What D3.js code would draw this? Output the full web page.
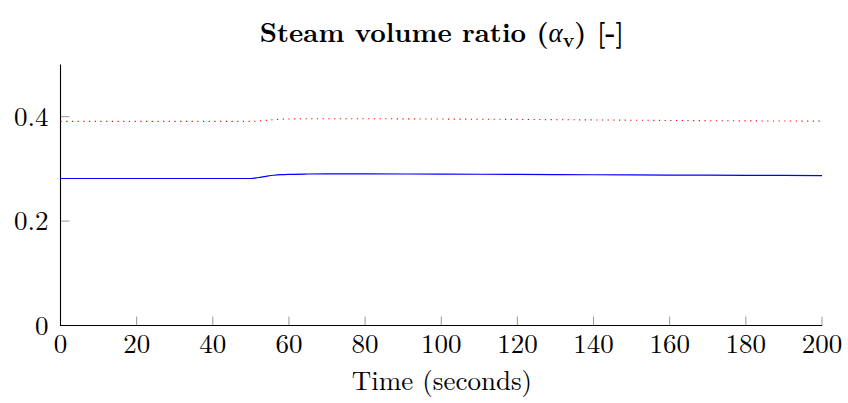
<!DOCTYPE html>
<html>
<head>
<meta charset="utf-8">
<script src="https://cdn.jsdelivr.net/npm/d3@7"></script>
<style>
  html, body { margin: 0; padding: 0; background: #fff; }
  svg { display: block; }
  text { font-family: "Latin Modern Roman", "CMU Serif", "Liberation Serif", serif; fill: #000; }
</style>
</head>
<body>
<svg id="chart" width="848" height="403"></svg>
<script>
// Simulation output: steam volume ratio over time
const time = [0, 50, 52, 54, 56, 58, 60, 65, 70, 80, 100, 120, 140, 160, 180, 200];
const alphaMain = [0.2816, 0.2816, 0.2835, 0.2858, 0.2878, 0.2890, 0.2896, 0.2902, 0.2904, 0.2904, 0.2900, 0.2895, 0.2888, 0.2882, 0.2877, 0.2873];
const alphaRef  = [0.3910, 0.3910, 0.3918, 0.3930, 0.3942, 0.3952, 0.3957, 0.3961, 0.3962, 0.3961, 0.3955, 0.3948, 0.3938, 0.3928, 0.3920, 0.3915];
const xTicks = [0, 20, 40, 60, 80, 100, 120, 140, 160, 180, 200];
const yTicks = [0, 0.2, 0.4];

const svg = d3.select("#chart");
const plotLeft = 60.5, plotRight = 822, plotTop = 64.5, plotBottom = 325.5;
const fontSize = 27;

const x = d3.scaleLinear().domain([0, 200]).range([plotLeft, plotRight]);
const y = d3.scaleLinear().domain([0, 0.5]).range([plotBottom, plotTop]);

// Tick marks (inward, grey)
svg.append("g").selectAll("line").data(xTicks).join("line")
  .attr("x1", d => x(d)).attr("x2", d => x(d))
  .attr("y1", plotBottom).attr("y2", plotBottom - 9)
  .attr("stroke", "#8c8c8c").attr("stroke-width", 0.9);
svg.append("g").selectAll("line").data(yTicks).join("line")
  .attr("x1", plotLeft).attr("x2", plotLeft + 9)
  .attr("y1", d => y(d)).attr("y2", d => y(d))
  .attr("stroke", "#8c8c8c").attr("stroke-width", 0.9);

// Axis lines: left and bottom only
svg.append("path")
  .attr("d", `M${plotLeft},${plotTop}V${plotBottom}H${plotRight}`)
  .attr("fill", "none").attr("stroke", "#000").attr("stroke-width", 1.1);

// Tick labels
svg.append("g").selectAll("text").data(xTicks).join("text")
  .attr("x", d => x(d)).attr("y", 353)
  .attr("text-anchor", "middle").attr("font-size", fontSize)
  .text(d => d);
svg.append("g").selectAll("text").data(yTicks).join("text")
  .attr("x", plotLeft - 12).attr("y", d => y(d) + 9)
  .attr("text-anchor", "end").attr("font-size", fontSize)
  .text(d => d3.format(".1~f")(d));

const line = (vals) => d3.line().x((d, i) => x(time[i])).y(d => y(d)).curve(d3.curveMonotoneX)(vals);

svg.append("path").attr("d", line(alphaRef))
  .attr("fill", "none").attr("stroke", "#ff0000").attr("stroke-width", 1.1)
  .attr("stroke-dasharray", "1.2 4.5");
svg.append("path").attr("d", line(alphaMain))
  .attr("fill", "none").attr("stroke", "#0000ff").attr("stroke-width", 1.2);

// Axis label
svg.append("text").attr("x", 442).attr("y", 390)
  .attr("text-anchor", "middle").attr("font-size", fontSize)
  .text("Time (seconds)");

// Title
const title = svg.append("text").attr("x", 442).attr("y", 42)
  .attr("text-anchor", "middle").attr("font-size", fontSize).attr("font-weight", "bold");
title.append("tspan").text("Steam volume ratio (");
title.append("tspan").attr("font-style", "italic").attr("font-weight", "normal").text("α");
title.append("tspan").attr("font-size", 19).attr("dy", 5).text("v");
title.append("tspan").attr("dy", -5).text(") [-]");

// Bottom edge of the preceding panel's title
svg.append("text").attr("x", 716).attr("y", -8)
  .attr("text-anchor", "middle").attr("font-size", fontSize).attr("font-weight", "bold")
  .text("[-]");
</script>
</body>
</html>
